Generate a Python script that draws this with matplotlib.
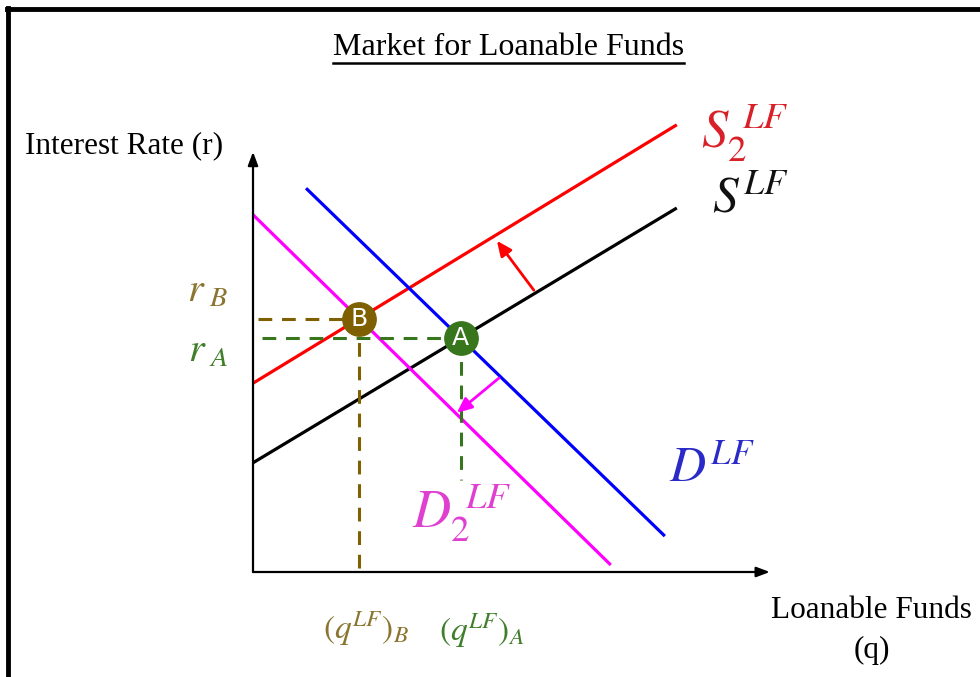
import numpy as np
import matplotlib
matplotlib.use("Agg")
import matplotlib.pyplot as plt
from matplotlib.lines import Line2D

plt.rcParams['font.family'] = ['Liberation Serif', 'DejaVu Serif']
plt.rcParams['mathtext.fontset'] = 'stix'

# curves: (q, r) end points
s_q = [0.0, 8.15]
s_r = [2.10, 7.00]
s2_q = [0.0, 8.15]
s2_r = [3.63, 8.60]
d_q = [1.02, 7.92]
d_r = [7.38, 0.69]
d2_q = [0.0, 6.88]
d2_r = [6.87, 0.135]

# shift arrows: (tail, head)
s_shift = [(5.40, 5.42), (4.69, 6.37)]
d_shift = [(4.73, 3.73), (3.92, 3.06)]

x_axis_end = 9.94
y_axis_end = 8.08
green_drop_end = 1.77
dash_start = 0.1

BROWN = '#7f6000'
GREEN = '#38761d'
BROWN_TXT = '#8a7430'
GREEN_TXT = '#3f7f2a'


def line_coef(q, r):
    m = (r[1] - r[0]) / (q[1] - q[0])
    return m, r[0] - m * q[0]


def intersect(q1, r1, q2, r2):
    m1, b1 = line_coef(q1, r1)
    m2, b2 = line_coef(q2, r2)
    q = (b2 - b1) / (m1 - m2)
    return q, m1 * q + b1


qA, rA = intersect(s_q, s_r, d_q, d_r)
qB, rB = intersect(s2_q, s2_r, d2_q, d2_r)

fig = plt.figure(figsize=(9.8, 6.77), dpi=100)
ax = fig.add_axes([0, 0, 1, 1])
ax.set_xlim(-253 / 52, (980 - 253) / 52)
ax.set_ylim(-(677 - 572) / 52, 572 / 52)
ax.axis('off')

# frame
fig.add_artist(Line2D([7 / 980, 1], [1 - 9 / 677, 1 - 9 / 677], color='black', lw=3.5, transform=fig.transFigure))
fig.add_artist(Line2D([8 / 980, 8 / 980], [0, 1 - 8 / 677], color='black', lw=3.5, transform=fig.transFigure))

# axes
arrow_kw = dict(arrowstyle='-|>,head_length=0.8,head_width=0.3', color='black', lw=1.6, shrinkA=0, shrinkB=0)
ax.annotate('', xy=(0, y_axis_end), xytext=(0, 0), arrowprops=arrow_kw)
ax.annotate('', xy=(x_axis_end, 0), xytext=(0, 0), arrowprops=arrow_kw)

# curves
ax.plot(s_q, s_r, color='black', lw=2.3, solid_capstyle='butt')
ax.plot(s2_q, s2_r, color='#ff0000', lw=2.3, solid_capstyle='butt')
ax.plot(d_q, d_r, color='#0000ff', lw=2.3, solid_capstyle='butt')
ax.plot(d2_q, d2_r, color='#ff00ff', lw=2.3, solid_capstyle='butt')

# dashed guides
dash = (0, (4.5, 3.2))
ax.plot([dash_start, qB], [rB, rB], color=BROWN, lw=2.2, linestyle=dash)
ax.plot([qB, qB], [rB, 0], color=BROWN, lw=2.2, linestyle=dash)
ax.plot([dash_start + 0.08, qA], [rA, rA], color=GREEN, lw=2.2, linestyle=dash)
ax.plot([qA, qA], [rA, green_drop_end], color=GREEN, lw=2.2, linestyle=dash)

# shift arrows
ax.annotate('', xy=s_shift[1], xytext=s_shift[0],
            arrowprops=dict(arrowstyle='-|>,head_length=0.9,head_width=0.4', color='#ff0000', lw=2, shrinkA=0, shrinkB=0))
ax.annotate('', xy=d_shift[1], xytext=d_shift[0],
            arrowprops=dict(arrowstyle='-|>,head_length=0.9,head_width=0.4', color='#ff00ff', lw=2, shrinkA=0, shrinkB=0))

# equilibrium points
ax.plot(qB, rB, 'o', ms=24, color=BROWN, zorder=5)
ax.plot(qA, rA, 'o', ms=24, color=GREEN, zorder=5)
ax.text(qB, rB, 'B', color='white', fontsize=18, family='DejaVu Sans', ha='center', va='center', zorder=6)
ax.text(qA, rA, 'A', color='white', fontsize=18, family='DejaVu Sans', ha='center', va='center', zorder=6)

# titles
title = ax.text(4.92, 10.08, 'Market for Loanable Funds', fontsize=23, ha='center', va='center')
ax.text(-2.48, 8.19, 'Interest Rate (r)', fontsize=22.5, ha='center', va='center')
ax.text(11.9, -0.75, 'Loanable Funds', fontsize=22.5, ha='center', va='center')
ax.text(11.9, -1.51, '(q)', fontsize=22.5, ha='center', va='center')

# curve labels
ax.text(9.46, 8.45, r'$S_2^{\ LF}$', fontsize=38, color='#d92028', ha='center', va='center')
ax.text(9.56, 7.15, r'$S^{LF}$', fontsize=37, color='#111111', ha='center', va='center')
ax.text(8.83, 1.96, r'$D^{LF}$', fontsize=36, color='#2a2ac8', ha='center', va='center')
ax.text(4.02, 1.15, r'$D_2^{\ LF}$', fontsize=38, color='#e040d0', ha='center', va='center')

# value labels
ax.text(-0.87, 5.38, r'$r_{\ B}$', fontsize=29, color=BROWN_TXT, ha='center', va='center')
ax.text(-0.87, 4.23, r'$r_{\ A}$', fontsize=29, color=GREEN_TXT, ha='center', va='center')
ax.text(2.17, -1.1, r'$(q^{LF})_{B}$', fontsize=24, color=BROWN_TXT, ha='center', va='center')
ax.text(4.40, -1.14, r'$(q^{LF})_{A}$', fontsize=24, color=GREEN_TXT, ha='center', va='center')

# underline the title
fig.canvas.draw()
bb = title.get_window_extent().transformed(ax.transData.inverted())
ax.plot([bb.x0, bb.x1], [bb.y0 - 0.02, bb.y0 - 0.02], color='black', lw=1.8)

fig.savefig('out.png', dpi=100)
